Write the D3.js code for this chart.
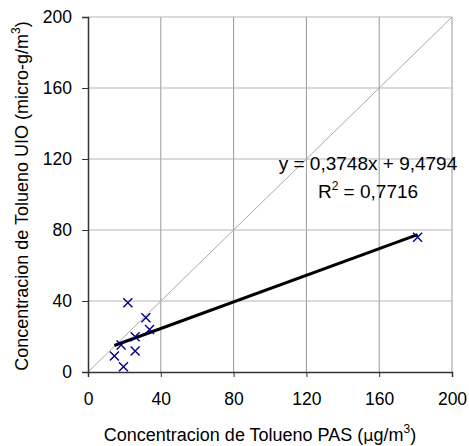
<!DOCTYPE html>
<html>
<head>
<meta charset="utf-8">
<script src="https://cdn.jsdelivr.net/npm/d3@7"></script>
<style>
  body { margin: 0; background: #fff; }
  text { font-family: "Liberation Sans", Arial, sans-serif; }
</style>
</head>
<body>
<script>
// data
var pasX = [21.9, 31.8, 33.8, 25.9, 18.2, 14.5, 25.9, 19.5, 181.1];
var uioY = [39.0, 30.6, 24.0, 19.9, 15.2, 9.0, 11.8, 3.0, 75.9];
var ticks = [0, 40, 80, 120, 160, 200];
var slope = 0.3748, intercept = 9.4794;

var width = 469, height = 446;
var margin = {top: 17, right: 17, bottom: 74, left: 88};
var w = width - margin.left - margin.right,
    h = height - margin.top - margin.bottom;

var svg = d3.select("body").append("svg")
    .attr("width", width)
    .attr("height", height);

var g = svg.append("g")
    .attr("transform", "translate(" + margin.left + "," + margin.top + ")");

var x = d3.scaleLinear().domain([0, 200]).range([0, w]);
var y = d3.scaleLinear().domain([0, 200]).range([h, 0]);

// grid
g.selectAll(".vgrid").data(ticks.slice(1)).enter().append("line")
    .attr("x1", function(d) { return x(d); })
    .attr("x2", function(d) { return x(d); })
    .attr("y1", 0).attr("y2", h)
    .attr("stroke", "#999").attr("stroke-width", 1);
g.selectAll(".hgrid").data(ticks.slice(1)).enter().append("line")
    .attr("x1", 0).attr("x2", w)
    .attr("y1", function(d) { return y(d); })
    .attr("y2", function(d) { return y(d); })
    .attr("stroke", "#b5b5b5").attr("stroke-width", 1);

// 1:1 line
g.append("line")
    .attr("x1", x(0)).attr("y1", y(0))
    .attr("x2", x(200)).attr("y2", y(200))
    .attr("stroke", "#aaa").attr("stroke-width", 1);

// axes
var xAxis = g.append("g")
    .attr("transform", "translate(0," + h + ")")
    .call(d3.axisBottom(x).tickValues(ticks).tickSizeOuter(0).tickSize(5).tickPadding(16));
var yAxis = g.append("g")
    .call(d3.axisLeft(y).tickValues(ticks).tickSizeOuter(0).tickSize(6).tickPadding(10));
[xAxis, yAxis].forEach(function(a) {
    a.select(".domain").attr("stroke", "#333").attr("stroke-width", 1.5);
    a.selectAll(".tick line").attr("stroke", "#333");
    a.selectAll(".tick text").attr("font-size", 17.5).attr("fill", "#000")
        .attr("font-family", "Liberation Sans, Arial, sans-serif");
});

// trend line
var xmin = d3.min(pasX), xmax = d3.max(pasX);
g.append("line")
    .attr("x1", x(xmin)).attr("y1", y(slope * xmin + intercept))
    .attr("x2", x(xmax)).attr("y2", y(slope * xmax + intercept))
    .attr("stroke", "#000").attr("stroke-width", 3);

// points
var s = 4.5;
g.selectAll(".pt").data(pasX).enter().append("path")
    .attr("d", function(d, i) {
        var cx = x(d), cy = y(uioY[i]);
        return "M" + (cx - s) + "," + (cy - s) + "L" + (cx + s) + "," + (cy + s) +
               "M" + (cx - s) + "," + (cy + s) + "L" + (cx + s) + "," + (cy - s);
    })
    .attr("stroke", "#000080").attr("stroke-width", 1.4).attr("fill", "none");

// equation
svg.append("text")
    .attr("x", 368).attr("y", 170)
    .attr("text-anchor", "middle")
    .attr("font-size", 19)
    .text("y = 0,3748x + 9,4794");
var r2 = svg.append("text")
    .attr("x", 368).attr("y", 198)
    .attr("text-anchor", "middle")
    .attr("font-size", 19);
r2.append("tspan").text("R");
r2.append("tspan").attr("dy", -8).attr("font-size", 12).text("2");
r2.append("tspan").attr("dy", 8).text(" = 0,7716");

// axis titles
var xt = svg.append("text")
    .attr("x", 260).attr("y", 441)
    .attr("text-anchor", "middle")
    .attr("font-size", 18);
xt.append("tspan").text("Concentracion de Tolueno PAS (");
xt.append("tspan").attr("font-family", "DejaVu Sans").attr("font-size", 16).text("\u03bc");
xt.append("tspan").text("g/m");
xt.append("tspan").attr("dy", -8).attr("font-size", 12).text("3");
xt.append("tspan").attr("dy", 8).text(")");

var yt = svg.append("text")
    .attr("transform", "translate(28,196) rotate(-90)")
    .attr("text-anchor", "middle")
    .attr("font-size", 18);
yt.append("tspan").text("Concentracion de Tolueno UIO (micro-g/m");
yt.append("tspan").attr("dy", -8).attr("font-size", 12).text("3");
yt.append("tspan").attr("dy", 8).text(")");
</script>
</body>
</html>
